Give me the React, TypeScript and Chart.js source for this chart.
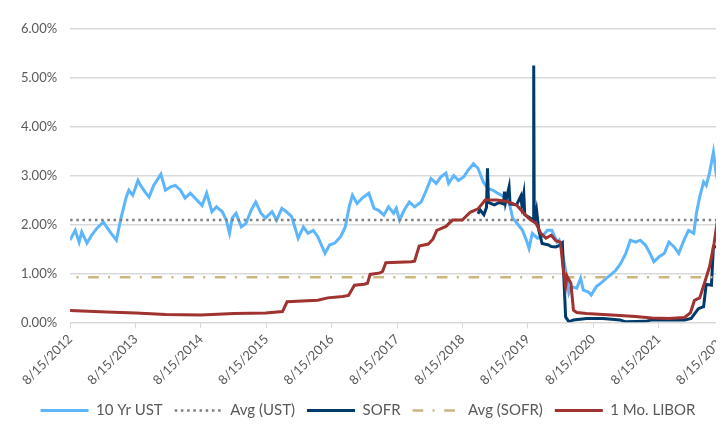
import React, { useEffect, useRef } from "react";
import { Chart, registerables } from "chart.js";

Chart.register(...registerables);

// x values are decimal calendar years; the axis starts at 8/15/2012
const START = 2012.622;
const xTickLabels = [
  "8/15/2012", "8/15/2013", "8/15/2014", "8/15/2015", "8/15/2016", "8/15/2017",
  "8/15/2018", "8/15/2019", "8/15/2020", "8/15/2021", "8/15/2022",
];
const yTicks = [0, 1, 2, 3, 4, 5, 6];

const ust: [number, number][] = [
  [2012.62, 1.68], [2012.70, 1.88], [2012.76, 1.64], [2012.80, 1.85], [2012.88, 1.62],
  [2012.95, 1.78], [2013.03, 1.92], [2013.13, 2.05], [2013.18, 1.95], [2013.25, 1.82],
  [2013.33, 1.68], [2013.40, 2.13], [2013.48, 2.56], [2013.52, 2.70], [2013.58, 2.60],
  [2013.66, 2.90], [2013.70, 2.80], [2013.78, 2.64], [2013.83, 2.56], [2013.90, 2.80],
  [2014.01, 3.03], [2014.08, 2.70], [2014.16, 2.77], [2014.23, 2.80], [2014.31, 2.70],
  [2014.38, 2.54], [2014.46, 2.64], [2014.53, 2.54], [2014.64, 2.39], [2014.71, 2.64],
  [2014.79, 2.26], [2014.86, 2.36], [2014.95, 2.26], [2015.01, 2.09], [2015.06, 1.82],
  [2015.10, 2.13], [2015.16, 2.23], [2015.24, 1.95], [2015.31, 2.02], [2015.39, 2.29],
  [2015.46, 2.46], [2015.54, 2.23], [2015.61, 2.13], [2015.71, 2.26], [2015.78, 2.09],
  [2015.86, 2.33], [2015.93, 2.26], [2016.01, 2.16], [2016.11, 1.72], [2016.19, 1.95],
  [2016.26, 1.82], [2016.34, 1.88], [2016.41, 1.75], [2016.52, 1.41], [2016.59, 1.58],
  [2016.67, 1.62], [2016.76, 1.75], [2016.83, 1.95], [2016.89, 2.36], [2016.94, 2.60],
  [2017.01, 2.43], [2017.09, 2.54], [2017.19, 2.64], [2017.27, 2.33], [2017.34, 2.29],
  [2017.42, 2.19], [2017.49, 2.36], [2017.57, 2.23], [2017.61, 2.33], [2017.66, 2.09],
  [2017.73, 2.29], [2017.81, 2.46], [2017.89, 2.36], [2017.99, 2.46], [2018.07, 2.70],
  [2018.14, 2.94], [2018.22, 2.84], [2018.29, 2.97], [2018.37, 3.05], [2018.41, 2.84],
  [2018.49, 3.00], [2018.56, 2.90], [2018.64, 2.97], [2018.71, 3.11], [2018.79, 3.24],
  [2018.86, 3.15], [2018.94, 2.87], [2019.01, 2.74], [2019.09, 2.70], [2019.16, 2.64],
  [2019.27, 2.56], [2019.34, 2.43], [2019.39, 2.13], [2019.46, 2.02], [2019.54, 1.88],
  [2019.60, 1.68], [2019.64, 1.51], [2019.69, 1.82], [2019.77, 1.72], [2019.84, 1.75],
  [2019.92, 1.88], [2019.99, 1.88], [2020.07, 1.64], [2020.10, 1.68], [2020.14, 1.48],
  [2020.20, 1.07], [2020.25, 0.60], [2020.29, 0.73], [2020.37, 0.70], [2020.43, 0.90],
  [2020.47, 0.66], [2020.55, 0.62], [2020.59, 0.56], [2020.67, 0.73], [2020.74, 0.80],
  [2020.82, 0.90], [2020.89, 0.97], [2020.97, 1.07], [2021.04, 1.20], [2021.12, 1.41],
  [2021.19, 1.68], [2021.27, 1.64], [2021.34, 1.68], [2021.42, 1.58], [2021.49, 1.41],
  [2021.55, 1.24], [2021.63, 1.34], [2021.71, 1.41], [2021.78, 1.64], [2021.86, 1.54],
  [2021.93, 1.41], [2022.01, 1.68], [2022.08, 1.88], [2022.16, 1.82], [2022.20, 2.23],
  [2022.25, 2.56], [2022.31, 2.87], [2022.35, 2.80], [2022.40, 3.05], [2022.46, 3.48],
  [2022.50, 3.05], [2022.55, 2.74],
];

const sofr: [number, number][] = [
  [2018.86, 2.22], [2018.89, 2.30], [2018.95, 2.20], [2018.99, 2.35], [2019.005, 3.15],
  [2019.02, 2.45], [2019.11, 2.40], [2019.19, 2.45], [2019.25, 2.42], [2019.265, 2.67],
  [2019.28, 2.45], [2019.335, 2.77], [2019.35, 2.42], [2019.45, 2.40], [2019.515, 2.58],
  [2019.53, 2.40], [2019.56, 2.63], [2019.575, 2.20], [2019.67, 2.12], [2019.705, 2.10],
  [2019.712, 5.25], [2019.72, 2.05], [2019.755, 2.30], [2019.79, 1.88], [2019.84, 1.61],
  [2019.94, 1.58], [2019.98, 1.55], [2020.05, 1.54], [2020.12, 1.58], [2020.15, 1.62],
  [2020.17, 1.00], [2020.20, 0.11], [2020.25, 0.01], [2020.32, 0.05], [2020.52, 0.08],
  [2020.77, 0.08], [2021.03, 0.05], [2021.12, 0.01], [2021.42, 0.02], [2021.52, 0.05],
  [2022.02, 0.05], [2022.12, 0.08], [2022.23, 0.28], [2022.31, 0.32], [2022.35, 0.78],
  [2022.43, 0.76], [2022.46, 1.54], [2022.56, 1.55],
];

const libor: [number, number][] = [
  [2012.62, 0.24], [2013.18, 0.21], [2013.63, 0.19], [2014.08, 0.16], [2014.62, 0.15],
  [2015.13, 0.18], [2015.61, 0.19], [2015.87, 0.22], [2015.94, 0.42], [2016.41, 0.45],
  [2016.56, 0.50], [2016.79, 0.53], [2016.88, 0.55], [2016.97, 0.76], [2017.12, 0.78],
  [2017.17, 0.80], [2017.21, 0.98], [2017.36, 1.01], [2017.40, 1.04], [2017.45, 1.22],
  [2017.84, 1.24], [2017.89, 1.25], [2017.96, 1.56], [2018.10, 1.60], [2018.17, 1.70],
  [2018.23, 1.88], [2018.37, 1.96], [2018.47, 2.09], [2018.62, 2.09], [2018.74, 2.25],
  [2018.86, 2.32], [2018.97, 2.50], [2019.15, 2.50], [2019.30, 2.47], [2019.45, 2.40],
  [2019.54, 2.26], [2019.64, 2.12], [2019.75, 2.02], [2019.82, 1.82], [2019.90, 1.72],
  [2019.98, 1.78], [2020.05, 1.67], [2020.12, 1.64], [2020.17, 1.00], [2020.20, 0.73],
  [2020.22, 0.95], [2020.28, 0.80], [2020.32, 0.25], [2020.37, 0.20], [2020.52, 0.18],
  [2020.77, 0.16], [2021.03, 0.14], [2021.27, 0.12], [2021.52, 0.09], [2021.78, 0.08],
  [2022.02, 0.10], [2022.11, 0.20], [2022.17, 0.45], [2022.25, 0.50], [2022.32, 0.79],
  [2022.40, 1.13], [2022.47, 1.61], [2022.53, 2.16], [2022.56, 2.39],
];

const avgUst = 2.09;
const avgSofr = 0.92;
const avgSpan = [2012.622, 2022.622];

const toXY = (arr: [number, number][]) => arr.map(([t, v]) => ({ x: t - START, y: v }));

export default function App() {
  const ref = useRef<HTMLCanvasElement | null>(null);
  useEffect(() => {
    if (!ref.current) return;
    const font = { family: "Lato", size: 13 };
    const defaultLabels = (Chart.defaults.plugins.legend.labels as any).generateLabels;
    const chart = new Chart(ref.current, {
      type: "line",
      data: {
        datasets: [
          {
            label: "10 Yr UST",
            data: toXY(ust),
            borderColor: "#5DB5FB",
            backgroundColor: "#5DB5FB",
            borderWidth: 3,
            order: 5,
          },
          {
            label: "Avg (UST)",
            data: avgSpan.map((t) => ({ x: t - START, y: avgUst })),
            borderColor: "#7F7F7F",
            backgroundColor: "#7F7F7F",
            borderWidth: 2.5,
            borderDash: [2.5, 3.7],
            order: 4,
          },
          {
            label: "SOFR",
            data: toXY(sofr),
            borderColor: "#003A6B",
            backgroundColor: "#003A6B",
            borderWidth: 3,
            order: 3,
          },
          {
            label: "Avg (SOFR)",
            data: avgSpan.map((t) => ({ x: t - START, y: avgSofr })),
            borderColor: "#C9B77E",
            backgroundColor: "#C9B77E",
            borderWidth: 2.5,
            borderDash: [10.7, 9.3, 2, 9.7],
            borderDashOffset: 13.7,
            order: 2,
          },
          {
            label: "1 Mo. LIBOR",
            data: toXY(libor),
            borderColor: "#A0322F",
            backgroundColor: "#A0322F",
            borderWidth: 3,
            order: 1,
          },
        ],
      },
      options: {
        animation: false,
        responsive: true,
        maintainAspectRatio: false,
        layout: { padding: { top: 11, right: 8, left: 0, bottom: 4 } },
        elements: { point: { radius: 0 }, line: { tension: 0 } },
        plugins: {
          tooltip: { enabled: false },
          legend: {
            position: "bottom",
            labels: {
              usePointStyle: true,
              pointStyle: "line",
              pointStyleWidth: 48,
              color: "#595959",
              font: { family: "Lato", size: 15 },
              padding: 12,
              sort: (a: any, b: any) => a.datasetIndex - b.datasetIndex,
              generateLabels: (c: any) =>
                defaultLabels(c).map((item: any) => {
                  const ds = c.data.datasets[item.datasetIndex];
                  return {
                    ...item,
                    lineDash: ds.borderDash || [],
                    lineWidth: ds.borderWidth,
                    strokeStyle: ds.borderColor,
                  };
                }),
            },
          },
        },
        scales: {
          x: {
            type: "linear",
            min: 0,
            max: xTickLabels.length - 1,
            afterFit: (s: any) => {
              s.paddingLeft = 0;
              s.paddingRight = 12;
            },
            grid: {
              drawOnChartArea: false,
              drawTicks: true,
              tickLength: 6,
              color: "#D9D9D9",
            },
            border: { display: true, color: "#D9D9D9" },
            ticks: {
              stepSize: 1,
              autoSkip: false,
              maxRotation: 45,
              minRotation: 45,
              color: "#595959",
              font,
              padding: 3,
              callback: (v: any) => xTickLabels[Math.round(Number(v))] ?? "",
            },
          },
          y: {
            min: yTicks[0],
            max: yTicks[yTicks.length - 1],
            grid: { color: "#D9D9D9", drawTicks: false, lineWidth: 1.5 },
            border: { display: false },
            ticks: {
              stepSize: 1,
              color: "#595959",
              font,
              padding: 13,
              callback: (v: any) => Number(v).toFixed(2) + "%",
            },
          },
        },
      },
    });
    return () => chart.destroy();
  }, []);
  return (
    <div style={{ width: 716, height: 424, overflow: "hidden", marginBottom: -8 }}>
      <div style={{ width: 728, height: 424, position: "relative" }}>
        <canvas ref={ref} />
      </div>
    </div>
  );
}
